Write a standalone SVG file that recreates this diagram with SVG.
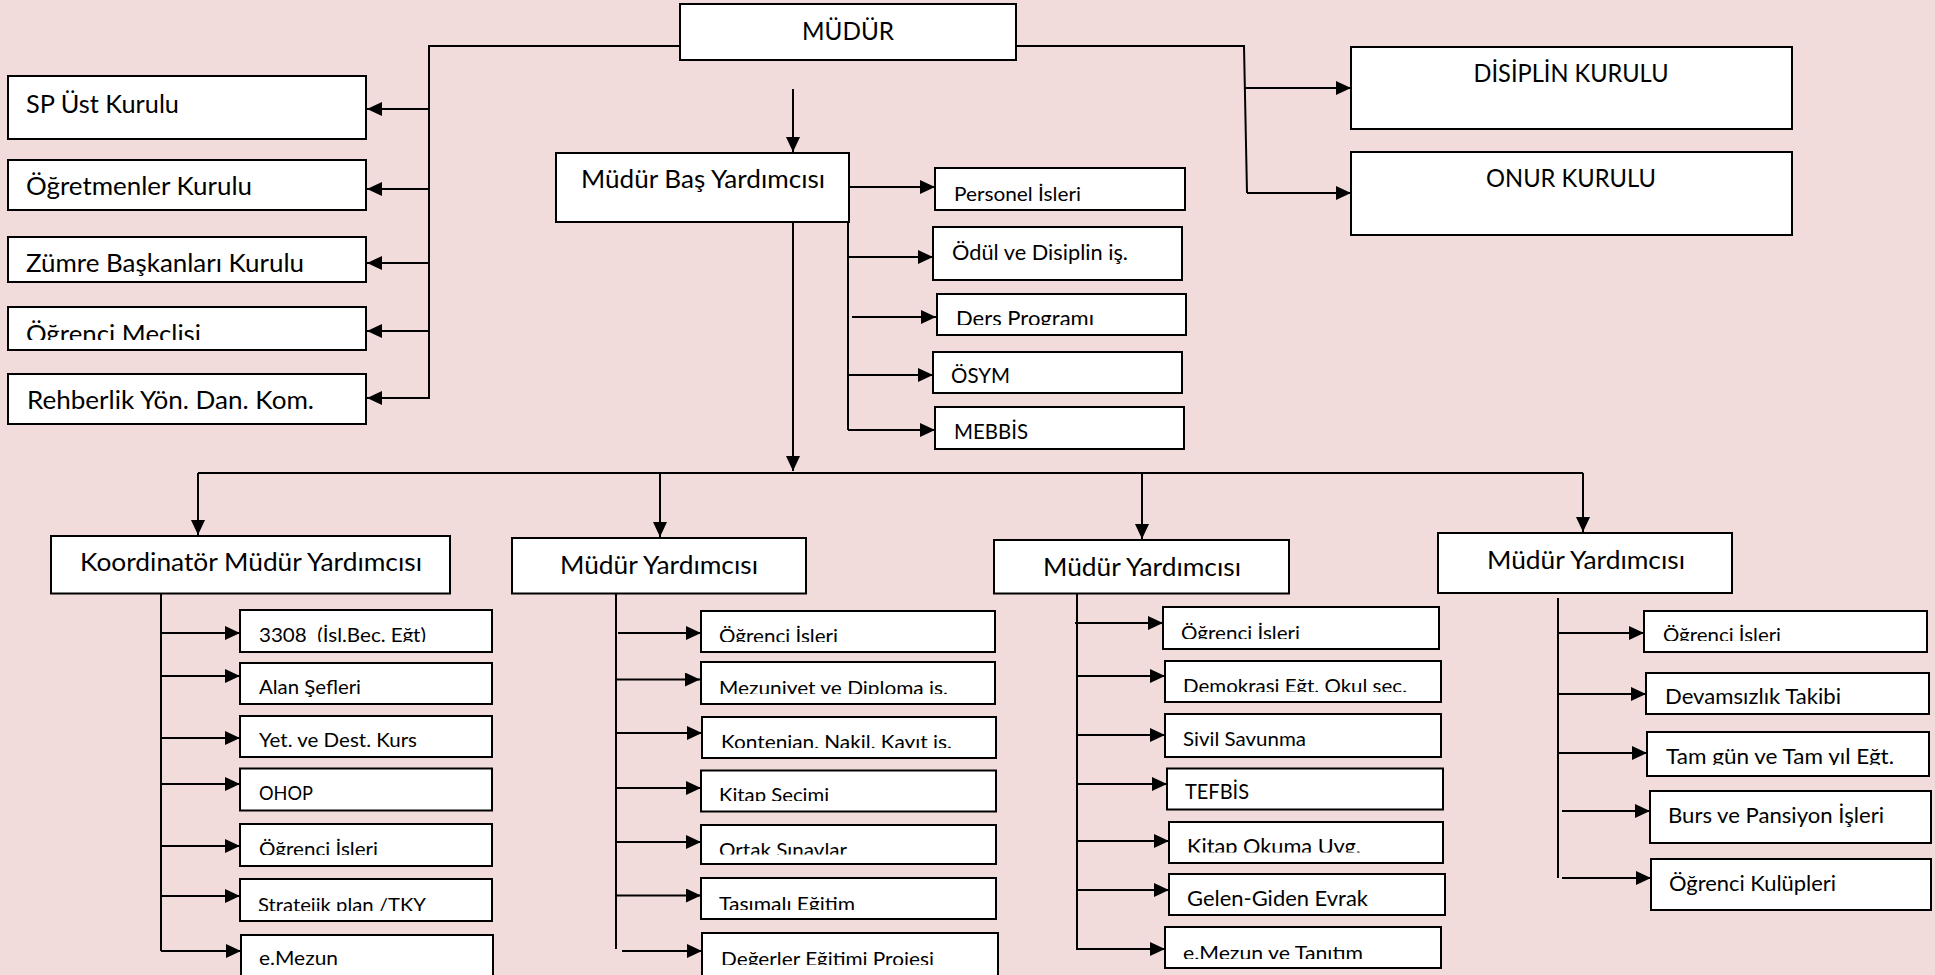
<svg xmlns="http://www.w3.org/2000/svg" width="1935" height="975" viewBox="0 0 1935 975">
<style>
.bx{fill:#fff;stroke:#000;stroke-width:2}
.t{font-family:Lato,'Liberation Sans',sans-serif;fill:#000}
.b{font-size:25px}
.s{font-size:20px}
.m{font-size:21.5px}
.c{text-anchor:middle}
.ln{fill:none;stroke:#000;stroke-width:2}
.ar{fill:none;stroke:#000;stroke-width:2;marker-end:url(#ah)}
</style>
<defs>
<marker id="ah" markerUnits="userSpaceOnUse" markerWidth="15" markerHeight="14" viewBox="0 0 15 14" refX="15" refY="7" orient="auto"><path d="M0,0 L15,7 L0,14 z" fill="#000"/></marker>
<clipPath id="c1"><rect x="8" y="307" width="358" height="33"/></clipPath>
<clipPath id="c2"><rect x="935" y="168" width="250" height="33"/></clipPath>
<clipPath id="c3"><rect x="937" y="294" width="249" height="31"/></clipPath>
<clipPath id="c4"><rect x="240" y="610" width="252" height="32"/></clipPath>
<clipPath id="c5"><rect x="240" y="824" width="252" height="31"/></clipPath>
<clipPath id="c6"><rect x="240" y="879" width="252" height="32"/></clipPath>
<clipPath id="c7"><rect x="701" y="611" width="294" height="31"/></clipPath>
<clipPath id="c8"><rect x="701" y="662" width="294" height="32"/></clipPath>
<clipPath id="c9"><rect x="702" y="717" width="294" height="31"/></clipPath>
<clipPath id="c10"><rect x="701" y="770" width="295" height="31"/></clipPath>
<clipPath id="c11"><rect x="701" y="825" width="295" height="29.5"/></clipPath>
<clipPath id="c12"><rect x="701" y="878" width="295" height="32"/></clipPath>
<clipPath id="c13"><rect x="702" y="933" width="296" height="32"/></clipPath>
<clipPath id="c14"><rect x="1163" y="607" width="276" height="32"/></clipPath>
<clipPath id="c15"><rect x="1165" y="661" width="276" height="31"/></clipPath>
<clipPath id="c16"><rect x="1165" y="714" width="276" height="33"/></clipPath>
<clipPath id="c17"><rect x="1169" y="822" width="274" height="30.5"/></clipPath>
<clipPath id="c18"><rect x="1165" y="927" width="276" height="32"/></clipPath>
<clipPath id="c19"><rect x="1644" y="611" width="283" height="30"/></clipPath>
<clipPath id="c20"><rect x="1647" y="732" width="282" height="33"/></clipPath>
</defs>
<rect x="0" y="0" width="1935" height="975" fill="#F2DCDB"/>

<g id="connectors">
<path class="ln" d="M680,46 H429 V399"/>
<path class="ar" d="M429,109 H367"/>
<path class="ar" d="M429,189 H367"/>
<path class="ar" d="M429,263 H367"/>
<path class="ar" d="M429,331 H367"/>
<path class="ar" d="M429,398 H367"/>
<path class="ln" d="M1016,46 H1244 L1247,193"/>
<path class="ar" d="M1245,88 H1351"/>
<path class="ar" d="M1247,193 H1351"/>
<path class="ar" d="M793,89 V152"/>
<path class="ar" d="M793,222 V471"/>
<path class="ln" d="M848,222 V430"/>
<path class="ar" d="M849,187 H935"/>
<path class="ar" d="M848,257 H933"/>
<path class="ar" d="M852,317 H936"/>
<path class="ar" d="M848,375 H933"/>
<path class="ar" d="M848,430 H935"/>
<path class="ln" d="M198,473 H1583"/>
<path class="ar" d="M198,473 V535"/>
<path class="ar" d="M660,473 V537"/>
<path class="ar" d="M1142,473 V539"/>
<path class="ar" d="M1583,473 V532"/>
<path class="ln" d="M161,593 V951"/>
<path class="ar" d="M161,633 H240"/>
<path class="ar" d="M161,676 H240"/>
<path class="ar" d="M161,738 H240"/>
<path class="ar" d="M161,784 H240"/>
<path class="ar" d="M161,846 H240"/>
<path class="ar" d="M161,896 H240"/>
<path class="ar" d="M161,951 H241"/>
<path class="ln" d="M616,593 V949"/>
<path class="ar" d="M618,633 H701"/>
<path class="ar" d="M616,679.5 H700"/>
<path class="ar" d="M616,733 H702"/>
<path class="ar" d="M617,788 H701"/>
<path class="ar" d="M617,842 H701"/>
<path class="ar" d="M617,895.5 H701"/>
<path class="ar" d="M622,951 H702"/>
<path class="ln" d="M1077,593 V949"/>
<path class="ar" d="M1075,623 H1163"/>
<path class="ar" d="M1078,676 H1165"/>
<path class="ar" d="M1078,735 H1165"/>
<path class="ar" d="M1078,784 H1167"/>
<path class="ar" d="M1078,841 H1169"/>
<path class="ar" d="M1076,890 H1169"/>
<path class="ar" d="M1076,949 H1165"/>
<path class="ln" d="M1558,598 V878"/>
<path class="ar" d="M1558,633 H1644"/>
<path class="ar" d="M1558,694 H1646"/>
<path class="ar" d="M1558,753 H1647"/>
<path class="ar" d="M1562,811 H1650"/>
<path class="ar" d="M1562,878 H1651"/>
</g>

<g id="n-mudur"><rect class="bx" x="680" y="4" width="336" height="56"/><text class="t b c" x="848" y="40" textLength="92" lengthAdjust="spacingAndGlyphs">MÜDÜR</text></g>
<g id="n-sp"><rect class="bx" x="8" y="76" width="358" height="63"/><text class="t b" x="26" y="113" textLength="153" lengthAdjust="spacingAndGlyphs">SP Üst Kurulu</text></g>
<g id="n-ogretmenler"><rect class="bx" x="8" y="160" width="358" height="50"/><text class="t b" x="26" y="195" textLength="226" lengthAdjust="spacingAndGlyphs">Öğretmenler Kurulu</text></g>
<g id="n-zumre"><rect class="bx" x="8" y="237" width="358" height="45"/><text class="t b" x="26" y="272" textLength="278" lengthAdjust="spacingAndGlyphs">Zümre Başkanları Kurulu</text></g>
<g id="n-meclis"><rect class="bx" x="8" y="307" width="358" height="43"/><text class="t b" x="26" y="343" textLength="175" lengthAdjust="spacingAndGlyphs" clip-path="url(#c1)">Öğrenci Meclisi</text></g>
<g id="n-rehberlik"><rect class="bx" x="8" y="374" width="358" height="50"/><text class="t b" x="27" y="409" textLength="287" lengthAdjust="spacingAndGlyphs">Rehberlik Yön. Dan. Kom.</text></g>

<g id="n-mby"><rect class="bx" x="556" y="153" width="293" height="69"/><text class="t b c" x="703" y="188" textLength="244" lengthAdjust="spacingAndGlyphs">Müdür Baş Yardımcısı</text></g>
<g id="n-personel"><rect class="bx" x="935" y="168" width="250" height="42"/><text class="t s" x="954" y="201" textLength="127" lengthAdjust="spacingAndGlyphs" clip-path="url(#c2)">Personel İşleri</text></g>
<g id="n-odul"><rect class="bx" x="933" y="227" width="249" height="53"/><text class="t m" x="952" y="260" textLength="176" lengthAdjust="spacingAndGlyphs">Ödül ve Disiplin iş.</text></g>
<g id="n-ders"><rect class="bx" x="937" y="294" width="249" height="41"/><text class="t m" x="956" y="326" textLength="138" lengthAdjust="spacingAndGlyphs" clip-path="url(#c3)">Ders Programı</text></g>
<g id="n-osym"><rect class="bx" x="933" y="352" width="249" height="41"/><text class="t m" x="951" y="383" textLength="59" lengthAdjust="spacingAndGlyphs">ÖSYM</text></g>
<g id="n-mebbis"><rect class="bx" x="935" y="407" width="249" height="42"/><text class="t m" x="954" y="439" textLength="74" lengthAdjust="spacingAndGlyphs">MEBBİS</text></g>

<g id="n-disiplin"><rect class="bx" x="1351" y="47" width="441" height="82"/><text class="t b c" x="1571" y="82" textLength="195" lengthAdjust="spacingAndGlyphs">DİSİPLİN KURULU</text></g>
<g id="n-onur"><rect class="bx" x="1351" y="152" width="441" height="83"/><text class="t b c" x="1571" y="187" textLength="170" lengthAdjust="spacingAndGlyphs">ONUR KURULU</text></g>

<g id="n-koord"><rect class="bx" x="51" y="536" width="399" height="57.5"/><text class="t b c" x="251" y="571" textLength="342" lengthAdjust="spacingAndGlyphs">Koordinatör Müdür Yardımcısı</text></g>
<g id="n-k3308"><rect class="bx" x="240" y="610" width="252" height="42"/><text class="t s" x="259" y="642" xml:space="preserve" textLength="167" lengthAdjust="spacingAndGlyphs" clip-path="url(#c4)">3308  (İşl.Bec. Eğt)</text></g>
<g id="n-kalan"><rect class="bx" x="240" y="663" width="252" height="41"/><text class="t s" x="259" y="694" textLength="102" lengthAdjust="spacingAndGlyphs">Alan Şefleri</text></g>
<g id="n-kyet"><rect class="bx" x="240" y="716" width="252" height="41"/><text class="t s" x="259" y="747" textLength="158" lengthAdjust="spacingAndGlyphs">Yet. ve Dest. Kurs</text></g>
<g id="n-kohop"><rect class="bx" x="240" y="768.5" width="252" height="42"/><text class="t s" x="259" y="800" textLength="54" lengthAdjust="spacingAndGlyphs">OHOP</text></g>
<g id="n-kogr"><rect class="bx" x="240" y="824" width="252" height="42"/><text class="t s" x="259" y="856" textLength="119" lengthAdjust="spacingAndGlyphs" clip-path="url(#c5)">Öğrenci İşleri</text></g>
<g id="n-kstrat"><rect class="bx" x="240" y="879" width="252" height="42"/><text class="t s" x="258" y="912" textLength="168" lengthAdjust="spacingAndGlyphs" clip-path="url(#c6)">Stratejik plan /TKY</text></g>
<g id="n-kemezun"><rect class="bx" x="241" y="935" width="252" height="50"/><text class="t s" x="259" y="965" textLength="79" lengthAdjust="spacingAndGlyphs">e.Mezun</text></g>

<g id="n-my1"><rect class="bx" x="512" y="538" width="294" height="55.5"/><text class="t b c" x="659" y="574" textLength="198" lengthAdjust="spacingAndGlyphs">Müdür Yardımcısı</text></g>
<g id="n-a1"><rect class="bx" x="701" y="611" width="294" height="41"/><text class="t s" x="719" y="643" textLength="119" lengthAdjust="spacingAndGlyphs" clip-path="url(#c7)">Öğrenci İşleri</text></g>
<g id="n-a2"><rect class="bx" x="701" y="662" width="294" height="42"/><text class="t s" x="719" y="695" textLength="229" lengthAdjust="spacingAndGlyphs" clip-path="url(#c8)">Mezuniyet ve Diploma iş.</text></g>
<g id="n-a3"><rect class="bx" x="702" y="717" width="294" height="41"/><text class="t s" x="721" y="749" textLength="231" lengthAdjust="spacingAndGlyphs" clip-path="url(#c9)">Kontenjan, Nakil, Kayıt iş.</text></g>
<g id="n-a4"><rect class="bx" x="701" y="770.5" width="295" height="41"/><text class="t s" x="719" y="802" textLength="110" lengthAdjust="spacingAndGlyphs" clip-path="url(#c10)">Kitap Seçimi</text></g>
<g id="n-a5"><rect class="bx" x="701" y="825" width="295" height="39"/><text class="t s" x="719" y="857" textLength="128" lengthAdjust="spacingAndGlyphs" clip-path="url(#c11)">Ortak Sınavlar</text></g>
<g id="n-a6"><rect class="bx" x="701" y="878" width="295" height="41"/><text class="t s" x="719" y="911" textLength="136" lengthAdjust="spacingAndGlyphs" clip-path="url(#c12)">Taşımalı Eğitim</text></g>
<g id="n-a7"><rect class="bx" x="702" y="933" width="296" height="52"/><text class="t s" x="721" y="966" textLength="213" lengthAdjust="spacingAndGlyphs" clip-path="url(#c13)">Değerler Eğitimi Projesi</text></g>

<g id="n-my2"><rect class="bx" x="994" y="540" width="295" height="53.5"/><text class="t b c" x="1142" y="576" textLength="198" lengthAdjust="spacingAndGlyphs">Müdür Yardımcısı</text></g>
<g id="n-b1"><rect class="bx" x="1163" y="607" width="276" height="42"/><text class="t s" x="1181" y="640" textLength="119" lengthAdjust="spacingAndGlyphs" clip-path="url(#c14)">Öğrenci İşleri</text></g>
<g id="n-b2"><rect class="bx" x="1165" y="661" width="276" height="41"/><text class="t s" x="1183" y="693" textLength="224" lengthAdjust="spacingAndGlyphs" clip-path="url(#c15)">Demokrasi Eğt. Okul seç.</text></g>
<g id="n-b3"><rect class="bx" x="1165" y="714" width="276" height="43"/><text class="t s" x="1183" y="746" textLength="123" lengthAdjust="spacingAndGlyphs" clip-path="url(#c16)">Sivil Savunma</text></g>
<g id="n-b4"><rect class="bx" x="1167" y="768.5" width="276" height="41"/><text class="t m" x="1185" y="799" textLength="64" lengthAdjust="spacingAndGlyphs">TEFBİS</text></g>
<g id="n-b5"><rect class="bx" x="1169" y="822" width="274" height="41"/><text class="t m" x="1187" y="854" textLength="174" lengthAdjust="spacingAndGlyphs" clip-path="url(#c17)">Kitap Okuma Uyg.</text></g>
<g id="n-b6"><rect class="bx" x="1169" y="874" width="276" height="41"/><text class="t m" x="1187" y="906" textLength="181" lengthAdjust="spacingAndGlyphs">Gelen-Giden Evrak</text></g>
<g id="n-b7"><rect class="bx" x="1165" y="927" width="276" height="41"/><text class="t s" x="1183" y="960" textLength="180" lengthAdjust="spacingAndGlyphs" clip-path="url(#c18)">e.Mezun ve Tanıtım</text></g>

<g id="n-my3"><rect class="bx" x="1438" y="533" width="294" height="60"/><text class="t b c" x="1586" y="569" textLength="198" lengthAdjust="spacingAndGlyphs">Müdür Yardımcısı</text></g>
<g id="n-c1"><rect class="bx" x="1644" y="611" width="283" height="41"/><text class="t s" x="1663" y="642" textLength="118" lengthAdjust="spacingAndGlyphs" clip-path="url(#c19)">Öğrenci İşleri</text></g>
<g id="n-c2"><rect class="bx" x="1646" y="673" width="283" height="41"/><text class="t m" x="1665" y="704" textLength="176" lengthAdjust="spacingAndGlyphs">Devamsızlık Takibi</text></g>
<g id="n-c3"><rect class="bx" x="1647" y="732" width="282" height="44"/><text class="t m" x="1666" y="764" textLength="228" lengthAdjust="spacingAndGlyphs" clip-path="url(#c20)">Tam gün ve Tam yıl Eğt.</text></g>
<g id="n-c4"><rect class="bx" x="1650" y="791" width="281" height="52"/><text class="t m" x="1668" y="823" textLength="216" lengthAdjust="spacingAndGlyphs">Burs ve Pansiyon İşleri</text></g>
<g id="n-c5"><rect class="bx" x="1651" y="859" width="280" height="51"/><text class="t m" x="1669" y="891" textLength="167" lengthAdjust="spacingAndGlyphs">Öğrenci Kulüpleri</text></g>
</svg>
